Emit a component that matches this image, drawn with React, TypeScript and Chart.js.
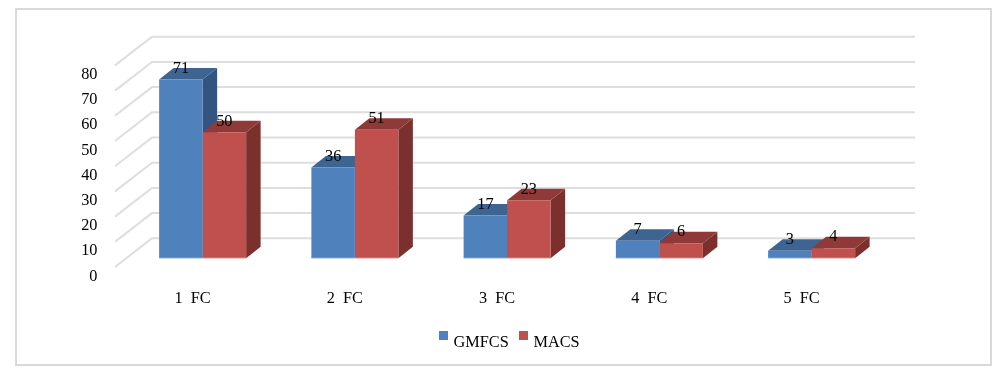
import React, { useEffect, useRef } from "react";
import { Chart, registerables } from "chart.js";

Chart.register(...registerables);

const categories = ["1  FC", "2  FC", "3  FC", "4  FC", "5  FC"];
const gmfcsValues = [71, 36, 17, 7, 3];
const macsValues = [50, 51, 23, 6, 4];
const seriesNames = ["GMFCS", "MACS"];

const FONT = "'Liberation Serif', serif";
const FONT_SIZE = 16.3;
const faces = [
  { front: "#4F81BD", top: "#3E6491", side: "#335480", edge: "#6F9BD1" },
  { front: "#C0504D", top: "#8F3A38", side: "#7B302E", edge: "#D9726F" },
];
const GRID = "#DEDEDE";
const BAR_DX = 14.5;
const BAR_DY = 11.5;

const depthPlugin = {
  id: "depth",
  beforeDraw(chart: any) {
    const { ctx, width, height } = chart;
    ctx.save();
    ctx.fillStyle = "#FFFFFF";
    ctx.fillRect(0, 0, width, height);
    ctx.strokeStyle = "#D9D9D9";
    ctx.lineWidth = 2;
    ctx.strokeRect(16, 9, 975, 356);
    ctx.restore();
  },
  beforeDatasetsDraw(chart: any) {
    const { ctx, chartArea } = chart;
    const y = chart.scales.y;
    ctx.save();
    ctx.strokeStyle = GRID;
    ctx.lineWidth = 2;
    (y.ticks as any[]).forEach((t) => {
      const p = y.getPixelForValue(t.value);
      ctx.beginPath();
      ctx.moveTo(chartArea.left - 11.5, p + 8.7);
      ctx.lineTo(chartArea.left + 25.5, p - 20);
      ctx.lineTo(chartArea.right + 27.25, p - 20);
      ctx.stroke();
    });
    chart.data.datasets.forEach((_: any, d: number) => {
      const c = faces[d];
      chart.getDatasetMeta(d).data.forEach((bar: any) => {
        const l = bar.x - bar.width / 2;
        const r = bar.x + bar.width / 2;
        ctx.fillStyle = c.side;
        ctx.beginPath();
        ctx.moveTo(r, bar.y);
        ctx.lineTo(r + BAR_DX, bar.y - BAR_DY);
        ctx.lineTo(r + BAR_DX, bar.base - BAR_DY);
        ctx.lineTo(r, bar.base);
        ctx.closePath();
        ctx.fill();
        ctx.fillStyle = c.top;
        ctx.beginPath();
        ctx.moveTo(l, bar.y);
        ctx.lineTo(l + BAR_DX, bar.y - BAR_DY);
        ctx.lineTo(r + BAR_DX, bar.y - BAR_DY);
        ctx.lineTo(r, bar.y);
        ctx.closePath();
        ctx.fill();
      });
    });
    ctx.restore();
  },
  afterDatasetsDraw(chart: any) {
    const { ctx } = chart;
    ctx.save();
    ctx.font = `${FONT_SIZE}px ${FONT}`;
    ctx.textAlign = "center";
    ctx.textBaseline = "middle";
    chart.data.datasets.forEach((ds: any, d: number) => {
      chart.getDatasetMeta(d).data.forEach((bar: any, i: number) => {
        const l = bar.x - bar.width / 2;
        ctx.fillStyle = faces[d].edge;
        ctx.fillRect(l, bar.base - 1, bar.width, 1);
        ctx.fillStyle = "#000000";
        ctx.fillText(String(ds.data[i]), bar.x, bar.y - 11);
      });
    });
    // legend
    ctx.textAlign = "left";
    ctx.textBaseline = "alphabetic";
    const legendX = [439, 519];
    seriesNames.forEach((name, i) => {
      ctx.fillStyle = faces[i].front;
      ctx.fillRect(legendX[i], 331, 9, 9);
      ctx.fillStyle = "#000000";
      ctx.fillText(name, legendX[i] + 14.5, 347);
    });
    ctx.restore();
  },
};

export default function App() {
  const ref = useRef<HTMLCanvasElement>(null);
  useEffect(() => {
    const chart = new Chart(ref.current as HTMLCanvasElement, {
      type: "bar",
      data: {
        labels: categories,
        datasets: [
          { label: seriesNames[0], data: gmfcsValues, backgroundColor: faces[0].front },
          { label: seriesNames[1], data: macsValues, backgroundColor: faces[1].front },
        ],
      },
      options: {
        responsive: false,
        animation: false,
        devicePixelRatio: 1,
        layout: { padding: { left: 0, top: 56.7, right: 120.25, bottom: 64.7 } },
        datasets: { bar: { barPercentage: 1, categoryPercentage: 0.5714 } },
        plugins: { legend: { display: false }, tooltip: { enabled: false } },
        scales: {
          x: {
            grid: { display: false },
            border: { display: false },
            afterFit: (s: any) => {
              s.height = 60;
            },
            ticks: {
              color: "#000000",
              font: { family: FONT, size: FONT_SIZE },
              padding: 23,
              labelOffset: -10,
              maxRotation: 0,
            },
          },
          y: {
            min: 0,
            max: 80,
            grid: { display: false, drawTicks: false },
            border: { display: false },
            afterFit: (s: any) => {
              s.width = 126.5;
            },
            ticks: {
              stepSize: 10,
              color: "#000000",
              font: { family: FONT, size: FONT_SIZE },
              padding: 29,
              labelOffset: 18,
            },
          },
        },
      } as any,
      plugins: [depthPlugin],
    });
    return () => chart.destroy();
  }, []);
  return (
    <canvas
      ref={ref}
      width={1008}
      height={383}
      style={{ position: "absolute", left: 0, top: 0, display: "block" }}
    />
  );
}
